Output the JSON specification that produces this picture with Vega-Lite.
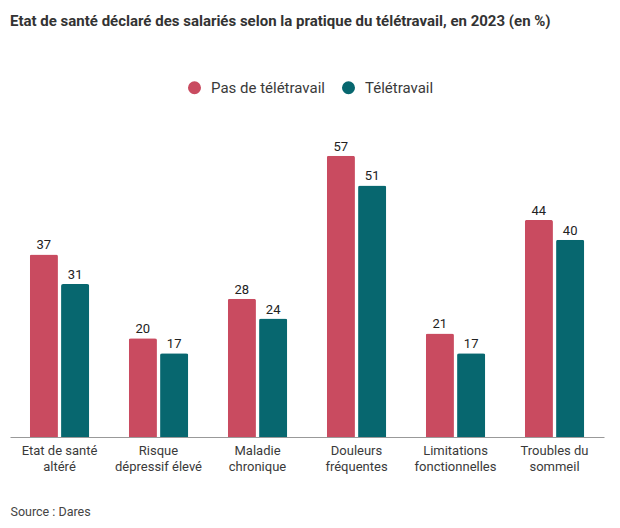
{
  "$schema": "https://vega.github.io/schema/vega-lite/v6.json",
  "width": 594,
  "height": 296,
  "autosize": "none",
  "padding": {"left": 10, "top": 141, "right": 16, "bottom": 91},
  "background": "white",
  "config": {
    "font": "Roboto",
    "view": {"stroke": null}
  },
  "title": {
    "text": "Etat de santé déclaré des salariés selon la pratique du télétravail, en 2023 (en %)",
    "anchor": "start",
    "frame": "group",
    "fontSize": 15,
    "fontWeight": "bold",
    "color": "#333333",
    "offset": 51
  },
  "data": {
    "values": [
      {"cat": "Etat de santé|altéré", "serie": "Pas de télétravail", "v": 37},
      {"cat": "Etat de santé|altéré", "serie": "Télétravail", "v": 31},
      {"cat": "Risque|dépressif élevé", "serie": "Pas de télétravail", "v": 20},
      {"cat": "Risque|dépressif élevé", "serie": "Télétravail", "v": 17},
      {"cat": "Maladie|chronique", "serie": "Pas de télétravail", "v": 28},
      {"cat": "Maladie|chronique", "serie": "Télétravail", "v": 24},
      {"cat": "Douleurs|fréquentes", "serie": "Pas de télétravail", "v": 57},
      {"cat": "Douleurs|fréquentes", "serie": "Télétravail", "v": 51},
      {"cat": "Limitations|fonctionnelles", "serie": "Pas de télétravail", "v": 21},
      {"cat": "Limitations|fonctionnelles", "serie": "Télétravail", "v": 17},
      {"cat": "Troubles du|sommeil", "serie": "Pas de télétravail", "v": 44},
      {"cat": "Troubles du|sommeil", "serie": "Télétravail", "v": 40}
    ]
  },
  "encoding": {
    "x": {
      "field": "cat",
      "type": "nominal",
      "sort": null,
      "scale": {"paddingInner": 0.4, "paddingOuter": 0.2},
      "axis": {
        "labelExpr": "split(datum.label, '|')",
        "labelAngle": 0,
        "labelFontSize": 13,
        "labelColor": "#3a3a3a",
        "labelLineHeight": 16,
        "labelPadding": 7,
        "ticks": false,
        "domainColor": "#999999",
        "title": "Source : Dares",
        "titleFontSize": 12.5,
        "titleFontWeight": "normal",
        "titleColor": "#444444",
        "titleAnchor": "start",
        "titleAlign": "left",
        "titleX": 0,
        "titleY": 68,
        "titleBaseline": "top"
      }
    },
    "xOffset": {"field": "serie", "type": "nominal", "scale": {"paddingInner": 0.1}},
    "y": {
      "field": "v",
      "type": "quantitative",
      "scale": {"domain": [0, 60]},
      "axis": null
    }
  },
  "layer": [
    {
      "mark": {"type": "bar", "cornerRadiusTopLeft": 2, "cornerRadiusTopRight": 2},
      "encoding": {
        "color": {
          "field": "serie",
          "type": "nominal",
          "scale": {"domain": ["Pas de télétravail", "Télétravail"], "range": ["#c94b60", "#07676f"]},
          "legend": {
            "title": null,
            "orient": "none",
            "direction": "horizontal",
            "legendX": 177,
            "legendY": -61,
            "symbolType": "circle",
            "symbolSize": 170,
            "symbolOpacity": 1,
            "labelFontSize": 15,
            "labelColor": "#3a3a3a",
            "labelOffset": 9,
            "columnPadding": 16
          }
        }
      }
    },
    {
      "mark": {"type": "text", "dy": -9, "fontSize": 13, "color": "#222222"},
      "encoding": {"text": {"field": "v", "type": "quantitative"}}
    }
  ]
}
